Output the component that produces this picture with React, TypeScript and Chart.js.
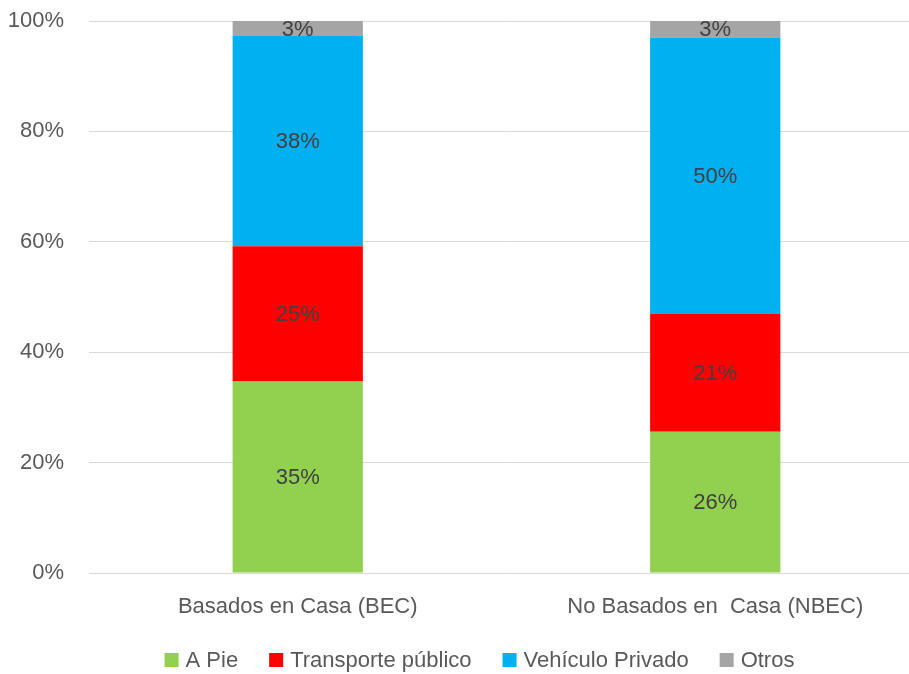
import React, { useEffect, useRef } from "react";
import { Chart, registerables } from "chart.js";

Chart.register(...registerables);

const categories = ["Basados en Casa (BEC)", "No Basados en  Casa (NBEC)"];
const seriesNames = ["A Pie", "Transporte público", "Vehículo Privado", "Otros"];
const aPie = [34.7, 25.6];
const transportePublico = [24.5, 21.4];
const vehiculoPrivado = [38.1, 50.0];
const otros = [2.7, 3.0];
const yTicks = [0, 20, 40, 60, 80, 100];
const colors = ["#92D050", "#FF0000", "#00B0F0", "#A5A5A5"];

const FONT = "'Liberation Sans Narrow', 'Arial Narrow', 'Liberation Sans', Arial, sans-serif";
const FS = 22;
const W = 955;
const H = 674;

const dataLabels = {
  id: "dataLabels",
  afterDatasetsDraw(chart: any) {
    const ctx = chart.ctx;
    ctx.save();
    ctx.font = `${FS}px ${FONT}`;
    ctx.fillStyle = "#404040";
    ctx.textAlign = "center";
    ctx.textBaseline = "middle";
    chart.data.datasets.forEach((ds: any, i: number) => {
      const meta = chart.getDatasetMeta(i);
      meta.data.forEach((el: any, j: number) => {
        const v = ds.data[j];
        const y = (el.y + el.base) / 2;
        ctx.fillText(Math.round(v) + "%", el.x, y + 1);
      });
    });
    ctx.restore();
  },
};

const customLegend = {
  id: "customLegend",
  afterDraw(chart: any) {
    const ctx = chart.ctx;
    ctx.save();
    ctx.font = `${FS}px ${FONT}`;
    const box = 14;
    const gapBox = 7;
    const gapItem = 31;
    const items = chart.data.datasets.map((ds: any) => ({
      text: ds.label,
      color: ds.backgroundColor,
      w: ctx.measureText(ds.label).width,
    }));
    const total =
      items.reduce((s: number, it: any) => s + box + gapBox + it.w, 0) + gapItem * (items.length - 1);
    let x = chart.width / 2 - total / 2 + 2;
    const cy = 660;
    ctx.textBaseline = "middle";
    ctx.textAlign = "left";
    items.forEach((it: any) => {
      ctx.fillStyle = it.color;
      ctx.fillRect(x, cy - box / 2, box, box);
      ctx.fillStyle = "#595959";
      ctx.fillText(it.text, x + box + gapBox, cy + 1);
      x += box + gapBox + it.w + gapItem;
    });
    ctx.restore();
  },
};

export default function App() {
  const ref = useRef<HTMLCanvasElement>(null);
  useEffect(() => {
    if (!ref.current) return;
    const seriesData = [aPie, transportePublico, vehiculoPrivado, otros];
    const chart = new Chart(ref.current, {
      type: "bar",
      data: {
        labels: categories,
        datasets: seriesNames.map((name, i) => ({
          label: name,
          data: seriesData[i],
          backgroundColor: colors[i],
          borderWidth: 0,
          categoryPercentage: 1,
          barPercentage: 0.312,
        })),
      },
      options: {
        responsive: false,
        animation: false,
        devicePixelRatio: 1,
        layout: { padding: { top: 21, right: 31, left: 0, bottom: 0 } },
        plugins: {
          legend: { display: false },
          tooltip: { enabled: false },
        },
        scales: {
          x: {
            stacked: true,
            grid: { display: false, drawTicks: false },
            border: { display: false },
            ticks: {
              color: "#595959",
              font: { family: FONT, size: FS },
              padding: 21,
              maxRotation: 0,
            },
            afterFit(scale: any) {
              scale.height = 101;
              scale.paddingLeft = 0;
              scale.paddingRight = 0;
            },
          },
          y: {
            stacked: true,
            min: 0,
            max: 100,
            afterBuildTicks(scale: any) {
              scale.ticks = yTicks.map((v) => ({ value: v }));
            },
            grid: { color: "#D9D9D9", lineWidth: 1, drawTicks: false },
            border: { display: false },
            ticks: {
              color: "#595959",
              font: { family: FONT, size: FS },
              padding: 25,
              callback: (v: any) => v + "%",
            },
            afterFit(scale: any) {
              scale.width = 89;
              scale.paddingTop = 0;
              scale.paddingBottom = 0;
            },
          },
        },
      },
      plugins: [dataLabels, customLegend],
    });
    return () => chart.destroy();
  }, []);
  return (
    <div style={{ position: "fixed", left: 0, top: 0, width: W, height: H, background: "#fff" }}>
      <canvas ref={ref} width={W} height={H} style={{ width: W, height: H, display: "block" }} />
    </div>
  );
}
